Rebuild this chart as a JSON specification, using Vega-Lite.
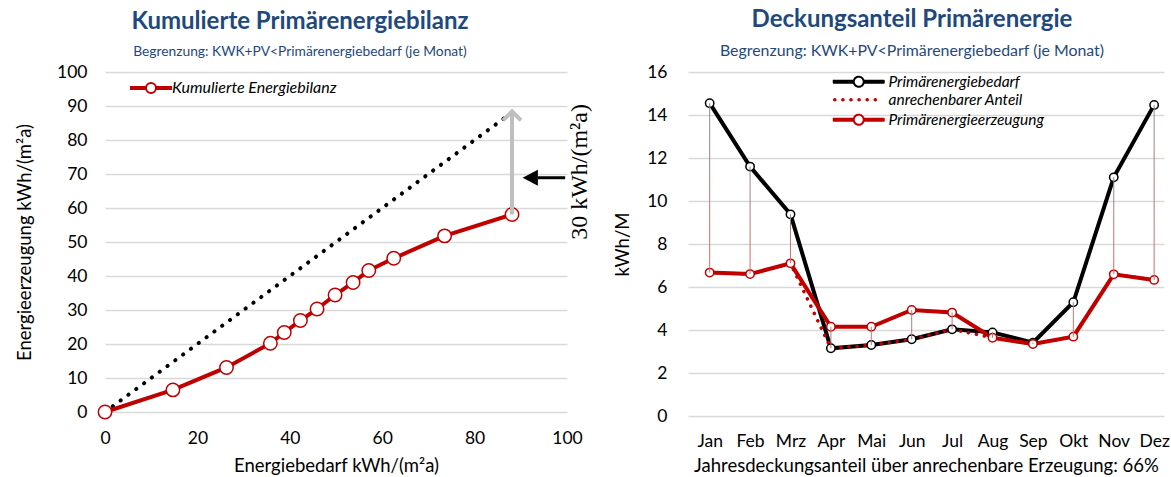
{
  "$schema": "https://vega.github.io/schema/vega-lite/v6.json",
  "padding": {"left": 15, "top": 8, "right": 0, "bottom": 0},
  "background": "white",
  "config": {
    "font": "Lato",
    "view": {"stroke": null},
    "axis": {"labelFont": "Lato", "labelFontSize": 17.5, "labelColor": "#000000", "titleFont": "Lato", "titleFontSize": 18.5, "titleFontWeight": "normal", "titleColor": "#000000", "domain": false, "ticks": false, "tickSize": 0, "gridColor": "#D9D9D9", "gridWidth": 1.5, "labelFlush": false, "labelOverlap": false},
    "legend": {"labelFont": "Lato", "labelFontStyle": "italic", "labelColor": "#000000", "padding": 0, "symbolSize": 64, "labelLimit": 400},
    "title": {"font": "Lato", "fontSize": 24, "fontWeight": "bold", "color": "#1F497D", "subtitleFont": "Lato", "subtitleColor": "#1F497D", "anchor": "middle", "frame": "group", "offset": 4, "subtitlePadding": 11}
  },
  "spacing": 21,
  "resolve": {"scale": {"x": "independent", "y": "independent", "color": "independent"}, "legend": {"color": "independent"}},
  "hconcat": [
    {
      "width": 462,
      "height": 340,
      "title": {"text": "Kumulierte Primärenergiebilanz", "subtitle": "Begrenzung: KWK+PV<Primärenergiebedarf (je Monat)", "subtitleFontSize": 13.8, "dx": -36},
      "encoding": {
        "x": {"field": "bedarf", "type": "quantitative", "scale": {"domain": [0, 100], "nice": false}, "axis": {"values": [0, 20, 40, 60, 80, 100], "grid": false, "title": "Energiebedarf kWh/(m²a)", "labelPadding": 17, "titlePadding": 10}},
        "y": {"field": "erzeugung", "type": "quantitative", "scale": {"domain": [0, 100], "nice": false}, "axis": {"values": [0, 10, 20, 30, 40, 50, 60, 70, 80, 90, 100], "title": "Energieerzeugung kWh/(m²a)", "labelPadding": 18, "titlePadding": 22}}
      },
      "layer": [
        {
          "data": {"values": [{"bedarf": 0, "erzeugung": 0}, {"bedarf": 89, "erzeugung": 89}]},
          "mark": {"type": "line", "color": "#000000", "strokeWidth": 4, "strokeDash": [0.1, 9.6], "strokeCap": "round"}
        },
        {
          "data": {"values": [
            {"bedarf": 0, "erzeugung": 0},
            {"bedarf": 14.7, "erzeugung": 6.5},
            {"bedarf": 26.3, "erzeugung": 13.1},
            {"bedarf": 35.8, "erzeugung": 20.2},
            {"bedarf": 38.8, "erzeugung": 23.4},
            {"bedarf": 42.3, "erzeugung": 26.9},
            {"bedarf": 45.9, "erzeugung": 30.3},
            {"bedarf": 49.8, "erzeugung": 34.4},
            {"bedarf": 53.7, "erzeugung": 38.1},
            {"bedarf": 57.1, "erzeugung": 41.6},
            {"bedarf": 62.5, "erzeugung": 45.2},
            {"bedarf": 73.5, "erzeugung": 51.8},
            {"bedarf": 88.1, "erzeugung": 58.1}
          ]},
          "layer": [
            {
              "mark": {"type": "line", "strokeWidth": 4},
              "encoding": {
                "color": {"datum": "Kumulierte Energiebilanz", "scale": {"range": ["#C00000"]}, "legend": {"title": null, "orient": "none", "legendX": 38, "legendY": 8, "labelFontSize": 16, "labelOffset": 13, "encode": {"symbols": {"update": {"shape": {"value": "M-5,-0.25L-1.25,-0.25L-1.25,0.25L-5,0.25Z M1.25,-0.25L5,-0.25L5,0.25L1.25,0.25Z M1.25,0A1.25,1.25 0 1,1 -1.25,0A1.25,1.25 0 1,1 1.25,0Z"}, "fill": {"value": "#FFFFFF"}, "stroke": {"value": "#C00000"}, "strokeWidth": {"value": 2}, "opacity": {"value": 1}}}}}}
              }
            },
            {
              "mark": {"type": "point", "shape": "circle", "filled": true, "fill": "#FFFFFF", "stroke": "#C00000", "strokeWidth": 1.5, "size": 180, "opacity": 1}
            }
          ]
        },
        {
          "data": {"values": [{"bedarf": 88.1, "erzeugung": 58.1, "erzeugung_ende": 87.6}]},
          "mark": {"type": "rule", "color": "#BFBFBF", "strokeWidth": 4},
          "encoding": {"y2": {"field": "erzeugung_ende"}}
        },
        {
          "data": {"values": [{"bedarf": 88.1, "erzeugung": 88.4}]},
          "mark": {"type": "point", "shape": "M-1,1L0,0L1,1", "size": 324, "filled": false, "stroke": "#BFBFBF", "strokeWidth": 4, "opacity": 1}
        },
        {
          "data": {"values": [{"bedarf": 93.7, "bedarf_ende": 99.6, "erzeugung": 68.9}]},
          "mark": {"type": "rule", "color": "#000000", "strokeWidth": 3},
          "encoding": {"x2": {"field": "bedarf_ende"}}
        },
        {
          "data": {"values": [{"bedarf": 90.4, "erzeugung": 68.9}]},
          "mark": {"type": "point", "shape": "M0,0L1.9,-1L1.9,1Z", "size": 256, "filled": true, "color": "#000000", "opacity": 1}
        },
        {
          "data": {"values": [{"bedarf": 102.8, "erzeugung": 70.6, "beschriftung": "30 kWh/(m²a)"}]},
          "mark": {"type": "text", "angle": 270, "font": "Liberation Serif", "fontSize": 24, "align": "center", "baseline": "middle", "color": "#000000"},
          "encoding": {"text": {"field": "beschriftung"}}
        }
      ]
    },
    {
      "width": 476,
      "height": 344,
      "title": {"text": "Deckungsanteil Primärenergie", "subtitle": "Begrenzung: KWK+PV<Primärenergiebedarf (je Monat)", "subtitleFontSize": 15.9, "dx": -14},
      "data": {"values": [
        {"monat": "Jan", "bedarf": 14.55, "erzeugung": 6.67, "anteil": 6.67},
        {"monat": "Feb", "bedarf": 11.6, "erzeugung": 6.6, "anteil": 6.6},
        {"monat": "Mrz", "bedarf": 9.38, "erzeugung": 7.1, "anteil": 7.1},
        {"monat": "Apr", "bedarf": 3.15, "erzeugung": 4.15, "anteil": 3.15},
        {"monat": "Mai", "bedarf": 3.3, "erzeugung": 4.15, "anteil": 3.3},
        {"monat": "Jun", "bedarf": 3.57, "erzeugung": 4.93, "anteil": 3.57},
        {"monat": "Jul", "bedarf": 4.03, "erzeugung": 4.81, "anteil": 4.03},
        {"monat": "Aug", "bedarf": 3.89, "erzeugung": 3.64, "anteil": 3.64},
        {"monat": "Sep", "bedarf": 3.41, "erzeugung": 3.35, "anteil": 3.35},
        {"monat": "Okt", "bedarf": 5.29, "erzeugung": 3.69, "anteil": 3.69},
        {"monat": "Nov", "bedarf": 11.1, "erzeugung": 6.59, "anteil": 6.59},
        {"monat": "Dez", "bedarf": 14.47, "erzeugung": 6.33, "anteil": 6.33}
      ]},
      "encoding": {
        "x": {"field": "monat", "type": "ordinal", "sort": null, "scale": {"type": "point", "padding": 0.39, "align": 0.6875}, "axis": {"labelAngle": 0, "grid": false, "title": "Jahresdeckungsanteil über anrechenbare Erzeugung: 66%", "labelPadding": 16, "titlePadding": 7}}
      },
      "layer": [
        {
          "transform": [{"fold": ["bedarf", "anteil", "erzeugung"], "as": ["reihe", "wert"]}, {"filter": "datum.reihe == 'bedarf'"}],
          "mark": {"type": "line", "strokeWidth": 4},
          "encoding": {
            "y": {"field": "wert", "type": "quantitative", "title": "kWh/M", "scale": {"domain": [0, 16], "nice": false}, "axis": {"values": [0, 2, 4, 6, 8, 10, 12, 14, 16], "labelPadding": 21, "titlePadding": 14}},
            "color": {"field": "reihe", "type": "nominal", "scale": {"domain": ["bedarf", "anteil", "erzeugung"], "range": ["#000000", "#C00000", "#C00000"]}, "legend": {"title": null, "orient": "none", "legendX": 163, "legendY": 2, "labelFontSize": 15.5, "labelOffset": 22, "rowPadding": 1, "labelExpr": "datum.value == 'bedarf' ? 'Primärenergiebedarf' : datum.value == 'anteil' ? 'anrechenbarer Anteil' : 'Primärenergieerzeugung'", "encode": {"symbols": {"update": {"shape": {"signal": "datum.value == 'anteil' ? 'M-6,0L6,0' : 'M-6.25,-0.25L-1.25,-0.25L-1.25,0.25L-6.25,0.25Z M1.25,-0.25L6.25,-0.25L6.25,0.25L1.25,0.25Z M1.25,0A1.25,1.25 0 1,1 -1.25,0A1.25,1.25 0 1,1 1.25,0Z'"}, "fill": {"signal": "datum.value == 'anteil' ? 'transparent' : '#FFFFFF'"}, "stroke": {"signal": "datum.value == 'bedarf' ? '#000000' : '#C00000'"}, "strokeWidth": {"signal": "datum.value == 'anteil' ? 3.5 : 2"}, "strokeDash": {"signal": "datum.value == 'anteil' ? [0.1, 8] : [1, 0]"}, "strokeCap": {"value": "round"}, "opacity": {"value": 1}}}}}}
          }
        },
        {
          "transform": [{"fold": ["bedarf", "anteil", "erzeugung"], "as": ["reihe", "wert"]}, {"filter": "datum.reihe == 'erzeugung'"}],
          "mark": {"type": "line", "strokeWidth": 4},
          "encoding": {
            "y": {"field": "wert", "type": "quantitative", "title": "kWh/M"},
            "color": {"field": "reihe", "type": "nominal"}
          }
        },
        {
          "transform": [{"fold": ["bedarf", "anteil", "erzeugung"], "as": ["reihe", "wert"]}, {"filter": "datum.reihe == 'anteil'"}],
          "mark": {"type": "line", "strokeWidth": 3.5, "strokeDash": [0.1, 8], "strokeCap": "round"},
          "encoding": {
            "y": {"field": "wert", "type": "quantitative", "title": "kWh/M"},
            "color": {"field": "reihe", "type": "nominal"}
          }
        },
        {
          "mark": {"type": "point", "shape": "circle", "filled": true, "fill": "#FFFFFF", "stroke": "#000000", "strokeWidth": 1.5, "size": 70, "opacity": 1},
          "encoding": {"y": {"field": "bedarf", "type": "quantitative", "title": "kWh/M"}}
        },
        {
          "mark": {"type": "point", "shape": "circle", "filled": true, "fill": "#FFFFFF", "stroke": "#C00000", "strokeWidth": 1.5, "size": 70, "opacity": 1},
          "encoding": {"y": {"field": "erzeugung", "type": "quantitative", "title": "kWh/M"}}
        },
        {
          "mark": {"type": "bar", "width": 1, "fill": {"gradient": "linear", "x1": 0, "y1": 0, "x2": 0, "y2": 1, "stops": [{"offset": 0, "color": "#8C8C8C"}, {"offset": 1, "color": "#E06666"}]}},
          "encoding": {
            "y": {"field": "bedarf", "type": "quantitative", "title": "kWh/M"},
            "y2": {"field": "erzeugung"}
          }
        }
      ]
    }
  ]
}
